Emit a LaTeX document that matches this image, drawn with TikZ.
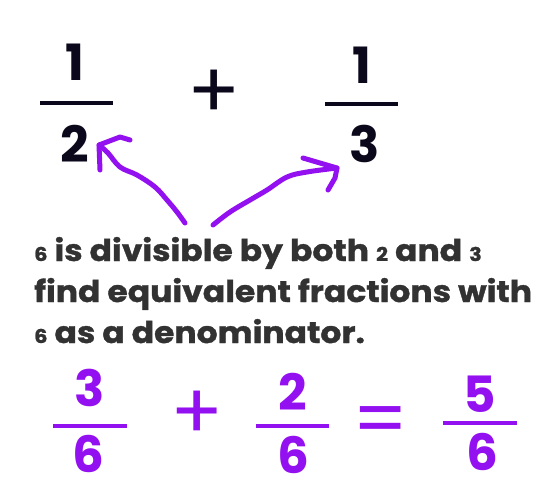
\documentclass[tikz,border=0pt]{standalone}
\usepackage{fontspec}
\setmainfont{Poppins}
\newfontfamily\txtfont[FakeStretch=1.1,FakeBold=1.2]{Poppins}
\definecolor{ink}{RGB}{12,8,28}
\definecolor{txt}{RGB}{50,50,50}
\definecolor{vio}{RGB}{147,16,240}
\newcommand{\od}[1]{{\fontsize{19}{19}\selectfont #1}}
\tikzset{
  digit/.style={font=\fontsize{50}{50}\selectfont\bfseries, inner sep=0pt, anchor=base, text depth=0pt},
  opsign/.style={font=\fontsize{78}{78}\selectfont, inner sep=0pt, anchor=base, text depth=0pt},
  fracbar/.style={line width=4pt},
  sentence/.style={font=\txtfont\fontsize{30}{30}\selectfont\bfseries, text=txt, inner sep=0pt, anchor=base west},
  scribble/.style={vio, line width=5pt, line cap=round, line join=round}
}
\begin{document}
\begin{tikzpicture}[x=1pt,y=-1pt]
\useasboundingbox (0,0) rectangle (560,483);
% top: 1/2 + 1/3
\node[digit, text=ink] (n1) at (75,80) {1};
\draw[fracbar, ink] (40,103) -- (113,103);
\node[digit, text=ink] (d1) at (75,162) {2};
\node[opsign, text=ink] (p1) at (214,118) {+};
\node[digit, text=ink] (n2) at (362,83) {1};
\draw[fracbar, ink] (325,104) -- (398,104);
\node[digit, text=ink] (d2) at (365,162) {3};
% arrows
\draw[scribble] plot[smooth, tension=0.6] coordinates {(185,223) (177,212) (167,200) (155,187) (137,175) (120,167) (108,153) (99,145)};
\draw[scribble] (100,170) -- (99,145) -- (120,137) -- (130,140);
\draw[scribble] plot[smooth, tension=0.6] coordinates {(213,225) (230,212) (250,200) (267,190) (287,177) (307,172) (337,168)};
\draw[scribble] (303,158) -- (337,168) -- (335,178) -- (328,190);
% text
\node[sentence] (l1) at (34,261) {\od{6} is divisible by both \od{2} and \od{3}};
\node[sentence] (l2) at (34,302) {find equivalent fractions with};
\node[sentence] (l3) at (34,343) {\od{6} as a denominator.};
% bottom: 3/6 + 2/6 = 5/6
\node[digit, text=vio] (a1) at (90,406) {3};
\draw[fracbar, vio] (53,426) -- (127,426);
\node[digit, text=vio] (b1) at (88,472) {6};
\node[opsign, text=vio] (p2) at (197,439) {+};
\node[digit, text=vio] (a2) at (293,410) {2};
\draw[fracbar, vio] (256,426) -- (329,426);
\node[digit, text=vio] (b2) at (293,473) {6};
\node[opsign, text=vio] (eq) at (381,446) {=};
\node[digit, text=vio] (a3) at (480,412) {5};
\draw[fracbar, vio] (443,423) -- (517,423);
\node[digit, text=vio] (b3) at (482,470) {6};
\end{tikzpicture}
\end{document}
